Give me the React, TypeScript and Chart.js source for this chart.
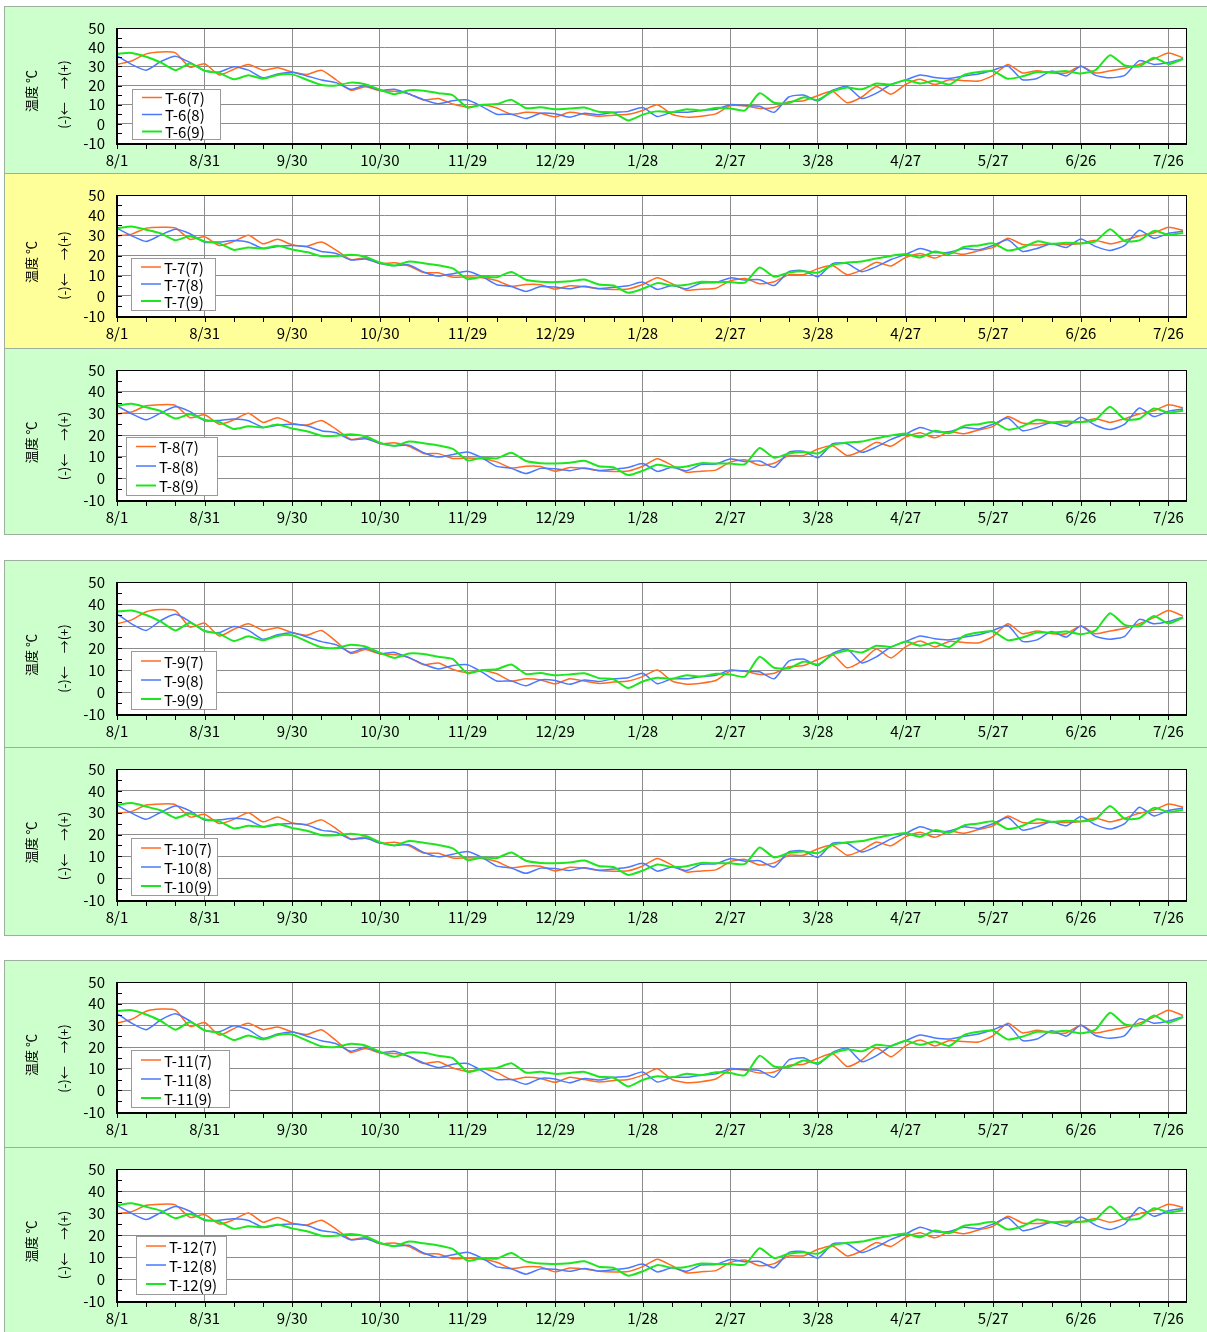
import React, { useEffect, useRef } from 'react';
import { Chart, registerables } from 'chart.js';

Chart.register(...registerables);

// x axis: days since 8/1, one label every 30 days
const DAY_LABELS = ['8/1', '8/31', '9/30', '10/30', '11/29', '12/29', '1/28', '2/27', '3/28', '4/27', '5/27', '6/26', '7/26'];
const SAMPLE_STEP_DAYS = 5; // one reading every 5 days, from 8/1 (day 0) to 7/31 (day 365)

// Group A readings (T-6, also used for the very similar T-9 and T-11 panels)
const GROUP_A_7 = [31, 32.8, 36.5, 37.5, 37, 29.5, 31.3, 25.5, 28.5, 31, 28, 29.2, 27, 25.8, 28, 23, 17.5, 19.3, 17.3, 17, 15.6, 12.4, 13.2, 10.3, 8.8, 9.8, 8.3, 5, 6, 5.5, 3.7, 6, 5, 3.9, 4.5, 5, 7,
  10, 5, 3.5, 4, 5.2, 9.5, 9.4, 8, 8.5, 11.5, 12, 14.8, 17, 11, 14, 19.5, 15.5, 20.5, 23.2, 20.5, 23, 22.5, 22.3, 25.3, 31, 26.5, 27.7, 26.5, 26.5, 30, 26.5, 27.7, 29, 31, 33.8, 37, 34.5];
const GROUP_A_8 = [35.5, 31, 28, 32.5, 35.3, 32, 27.7, 27, 29.8, 28, 24, 26, 26.9, 25, 22.9, 21.5, 18, 20, 17.5, 18, 15.6, 12.6, 10.5, 12, 12.4, 9, 5, 5, 2.8, 5.5, 5.2, 3.5, 5.5, 4.8, 6, 6.5, 8.5,
  3.8, 6, 6, 7, 7.6, 10, 9.5, 9.2, 6, 14, 15, 12, 17.5, 19.5, 13.2, 16, 20.5, 22.9, 25.5, 24.2, 23.7, 25, 26, 28, 30.2, 23, 23.7, 27.5, 25, 30, 25.3, 24, 25.3, 33, 31, 32, 34];
const GROUP_A_9 = [36.6, 37, 35, 32, 28, 31.5, 27.7, 26.5, 23.2, 25.3, 23.5, 25.5, 25.8, 23, 20.3, 20, 21.5, 20.7, 17.8, 15.5, 17.5, 17.3, 16, 14.9, 8.5, 10, 10.3, 12.5, 8.2, 8.6, 7.6, 8, 8.5, 6.3, 5.8, 1.8, 4.8,
  6.5, 6, 7.6, 7, 8.3, 8, 7, 16, 11, 10.8, 13.8, 12.5, 17, 18.9, 18, 21, 20.5, 22.9, 21, 22.5, 20.5, 25.5, 27, 27.5, 23.5, 24.8, 27, 27, 27.5, 26.3, 28, 35.8, 30.5, 30, 34.5, 31.2, 33.8];

// Group B readings (T-7, also used for the very similar T-8, T-10 and T-12 panels)
const GROUP_B_7 = [29.7, 30.6, 33.5, 34, 33.7, 28, 29.3, 25, 27, 30, 25.8, 28, 25.3, 24.6, 26.7, 22.7, 18, 18.8, 16, 16.4, 14.8, 11.5, 11.4, 9.2, 9.4, 9, 7.6, 4.8, 5.6, 5.5, 3.3, 5, 4.5, 3.5, 3.2, 3.4, 5.6,
  9, 6, 2.8, 3.3, 3.8, 7.5, 8.6, 6, 7, 10.5, 10.5, 13.5, 15, 10.5, 12.8, 16.6, 14.8, 19, 21, 18.7, 21.5, 20.6, 22.3, 24, 28.5, 25.5, 25.2, 25.8, 25.5, 26, 27.5, 25.8, 27.5, 29.7, 31.2, 34, 32.5];
const GROUP_B_8 = [33.5, 29.8, 27, 30.2, 33, 30.8, 26.6, 26.7, 27.4, 26.6, 23.5, 24.5, 25, 24.3, 22, 21, 17.8, 18.3, 16.2, 15, 15.3, 11.8, 9.8, 11, 12.2, 9.5, 5.5, 4.6, 2.2, 4.6, 4.4, 3.5, 4.8, 3.6, 4.2, 5, 6.8,
  3.2, 5.1, 3.5, 6.4, 6.6, 8.9, 7.8, 8, 5.1, 12, 12.5, 9.5, 16, 16, 12, 14.5, 18, 20.5, 23.5, 21.5, 21.6, 23.5, 22.8, 25, 27.8, 22, 23.5, 25.8, 24, 28.2, 24.5, 22.5, 25, 32.5, 28.5, 31, 32];
const GROUP_B_9 = [33.5, 34.4, 32.8, 31, 27.6, 29.6, 27, 26, 22.8, 24, 23.5, 24.8, 23, 21.7, 19.7, 19.7, 20.4, 19.4, 16.5, 15, 17, 16.2, 15.2, 13.6, 8.3, 9.5, 9.2, 11.8, 8, 7, 6.8, 7.2, 8.1, 5.6, 5.1, 1.5, 3.5,
  6.3, 5.1, 5.5, 7, 6.8, 6.8, 6.5, 14, 9.5, 11.5, 12.2, 11.5, 15.3, 16.5, 17, 18.5, 19.8, 20.7, 19, 22, 20.8, 24.2, 25, 26, 22.5, 24, 27, 25.8, 26.3, 26, 27, 33, 27.2, 27.5, 32.2, 30.3, 31.2];

const SERIES_SUFFIXES = ['(7)', '(8)', '(9)'];
const SERIES_COLORS = ['#FF6B1F', '#4A78FF', '#1EE61E'];
const SERIES_WIDTHS = [1.5, 1.5, 2];

const GREEN_BG = '#CCFFCC';
const YELLOW_BG = '#FFFF99';
const FONT = "'Noto Sans CJK JP', 'Noto Sans', sans-serif";

const PLOT_LEFT = 117;
const PLOT_RIGHT = 1186;
const CANVAS_LEFT = 5;
const CANVAS_RIGHT = 1207;

type LegendBox = { x: number; y: number; w: number; h: number; row: number; first: number };
type PanelSpec = {
  name: string;
  top: number;
  bottom: number;
  plotTop: number;
  plotBottom: number;
  bg: string;
  legend: LegendBox;
  series: number[][];
};

const PANELS: PanelSpec[] = [
  { name: 'T-6', top: 6, bottom: 173, plotTop: 19, plotBottom: 143, bg: GREEN_BG, legend: { x: 132, y: 89, w: 88, h: 50, row: 17, first: 97.5 }, series: [GROUP_A_7, GROUP_A_8, GROUP_A_9] },
  { name: 'T-7', top: 173, bottom: 348, plotTop: 186, plotBottom: 316, bg: YELLOW_BG, legend: { x: 131, y: 258, w: 84, h: 52, row: 17, first: 267 }, series: [GROUP_B_7, GROUP_B_8, GROUP_B_9] },
  { name: 'T-8', top: 348, bottom: 534, plotTop: 361, plotBottom: 500, bg: GREEN_BG, legend: { x: 126, y: 437, w: 91, h: 58, row: 19.5, first: 446.5 }, series: [GROUP_B_7, GROUP_B_8, GROUP_B_9] },
  { name: 'T-9', top: 560, bottom: 747, plotTop: 575, plotBottom: 714, bg: GREEN_BG, legend: { x: 131, y: 651, w: 85, h: 58, row: 19, first: 661 }, series: [GROUP_A_7, GROUP_A_8, GROUP_A_9] },
  { name: 'T-10', top: 747, bottom: 935, plotTop: 762, plotBottom: 900, bg: GREEN_BG, legend: { x: 131, y: 838, w: 86, h: 57, row: 19, first: 848 }, series: [GROUP_B_7, GROUP_B_8, GROUP_B_9] },
  { name: 'T-11', top: 960, bottom: 1147, plotTop: 974, plotBottom: 1112, bg: GREEN_BG, legend: { x: 131, y: 1050, w: 98, h: 57, row: 19, first: 1060 }, series: [GROUP_A_7, GROUP_A_8, GROUP_A_9] },
  { name: 'T-12', top: 1147, bottom: 1333, plotTop: 1161, plotBottom: 1301, bg: GREEN_BG, legend: { x: 136, y: 1236, w: 90, h: 58, row: 19, first: 1246 }, series: [GROUP_B_7, GROUP_B_8, GROUP_B_9] },
];

function Panel({ spec }: { spec: PanelSpec }) {
  const ref = useRef<HTMLCanvasElement | null>(null);
  const cTop = spec.top + 1;
  const cH = spec.bottom - cTop;
  const cW = CANVAS_RIGHT - CANVAS_LEFT;

  useEffect(() => {
    if (!ref.current) return;
    const toPoints = (arr: number[]) => arr.map((v, i) => ({ x: i * SAMPLE_STEP_DAYS, y: v }));
    const centerLocal = (spec.top + spec.bottom) / 2 - cTop;

    const decor = {
      id: 'panelDecor',
      beforeDraw(chart: any) {
        const { ctx, chartArea: a } = chart;
        ctx.save();
        ctx.fillStyle = '#FFFFFF';
        ctx.fillRect(a.left, a.top, a.right - a.left, a.bottom - a.top);
        ctx.restore();
      },
      afterDraw(chart: any) {
        const { ctx, chartArea: a } = chart;
        const xs = chart.scales.x;
        const ys = chart.scales.y;
        ctx.save();
        // plot border
        ctx.strokeStyle = '#000';
        ctx.lineWidth = 1;
        ctx.strokeRect(Math.round(a.left) + 0.5, Math.round(a.top) + 0.5, Math.round(a.right - a.left), Math.round(a.bottom - a.top));
        ctx.fillStyle = '#000';
        ctx.fillRect(Math.round(a.left) - 1, Math.round(a.top), 1, Math.round(a.bottom - a.top) + 2);
        ctx.fillRect(Math.round(a.left) - 1, Math.round(a.bottom) + 1, Math.round(a.right - a.left) + 2, 1);
        // x tick marks every 10 days (outside)
        ctx.beginPath();
        for (let d = 0; d <= 360; d += 10) {
          const px = Math.round(xs.getPixelForValue(d)) + 0.5;
          ctx.moveTo(px, Math.round(a.bottom) + 1);
          ctx.lineTo(px, Math.round(a.bottom) + 6);
        }
        // y tick marks every 5 units (inside)
        for (let v = -10; v <= 50; v += 5) {
          const py = Math.round(ys.getPixelForValue(v)) + 0.5;
          ctx.moveTo(Math.round(a.left), py);
          ctx.lineTo(Math.round(a.left) + 5, py);
        }
        ctx.strokeStyle = '#000';
        ctx.lineWidth = 1;
        ctx.stroke();

        // legend box
        const lg = spec.legend;
        const lx = lg.x - CANVAS_LEFT;
        const ly = lg.y - cTop;
        ctx.fillStyle = '#FFFFFF';
        ctx.fillRect(lx, ly, lg.w, lg.h);
        ctx.strokeStyle = '#9A9A9A';
        ctx.lineWidth = 1;
        ctx.strokeRect(lx + 0.5, ly + 0.5, lg.w, lg.h);
        ctx.font = `15px ${FONT}`;
        ctx.textBaseline = 'middle';
        ctx.textAlign = 'left';
        SERIES_SUFFIXES.forEach((suf, i) => {
          const ry = lg.first - cTop + i * lg.row;
          ctx.beginPath();
          ctx.strokeStyle = SERIES_COLORS[i];
          ctx.lineWidth = SERIES_WIDTHS[i];
          ctx.moveTo(lx + 10, ry);
          ctx.lineTo(lx + 30, ry);
          ctx.stroke();
          ctx.fillStyle = '#000';
          ctx.fillText(spec.name + suf, lx + 33, ry + 1);
        });

        // y axis titles (rotated)
        ctx.fillStyle = '#000';
        ctx.font = `13px ${FONT}`;
        ctx.textAlign = 'center';
        ctx.textBaseline = 'middle';
        ctx.save();
        ctx.translate(31 - CANVAS_LEFT, centerLocal + 1.5);
        ctx.rotate(-Math.PI / 2);
        ctx.fillText('温度 ℃', 0, 0);
        ctx.restore();
        ctx.save();
        ctx.translate(64 - CANVAS_LEFT, centerLocal + 5);
        ctx.rotate(-Math.PI / 2);
        ctx.fillText('(-)←\u3000→(+)', 0, 0);
        ctx.restore();
        ctx.restore();
      },
    };

    const chart = new Chart(ref.current, {
      type: 'line',
      data: {
        datasets: spec.series.map((arr, i) => ({
          label: spec.name + SERIES_SUFFIXES[i],
          data: toPoints(arr),
          borderColor: SERIES_COLORS[i],
          backgroundColor: SERIES_COLORS[i],
          borderWidth: SERIES_WIDTHS[i],
          pointRadius: 0,
          tension: 0.2,
          fill: false,
          order: 2 - i,
        })),
      },
      options: {
        responsive: false,
        animation: false,
        devicePixelRatio: 1,
        layout: {
          autoPadding: false,
          padding: { left: 0, top: spec.plotTop - cTop, right: CANVAS_RIGHT - PLOT_RIGHT, bottom: 0 },
        },
        plugins: { legend: { display: false }, tooltip: { enabled: false }, title: { display: false } },
        scales: {
          x: {
            type: 'linear',
            min: 0,
            max: 366,
            afterBuildTicks: (axis: any) => {
              axis.ticks = DAY_LABELS.map((_, i) => ({ value: i * 30 }));
            },
            afterFit: (axis: any) => {
              axis.height = cH - (spec.plotBottom - cTop);
            },
            grid: { color: '#8C8C8C', lineWidth: 1, drawTicks: false },
            border: { display: false },
            ticks: {
              autoSkip: false,
              maxRotation: 0,
              minRotation: 0,
              padding: 8,
              color: '#000',
              font: { family: FONT, size: 15 },
              callback: (v: any) => DAY_LABELS[Math.round(Number(v) / 30)] ?? '',
            },
          },
          y: {
            type: 'linear',
            min: -10,
            max: 50,
            afterFit: (axis: any) => {
              axis.width = PLOT_LEFT - CANVAS_LEFT;
            },
            grid: { color: '#8C8C8C', lineWidth: 1, drawTicks: false },
            border: { display: false },
            ticks: {
              stepSize: 10,
              autoSkip: false,
              padding: 12,
              color: '#000',
              font: { family: FONT, size: 15 },
              callback: (v: any) => String(v),
            },
          },
        },
      } as any,
      plugins: [decor],
    });
    return () => chart.destroy();
  }, [spec]);

  return (
    <div
      style={{
        position: 'absolute',
        left: 4,
        top: spec.top,
        width: 1212,
        height: spec.bottom - spec.top + 1,
        background: spec.bg,
        border: '1px solid #9DB09D',
        boxSizing: 'border-box',
      }}
    >
      <canvas ref={ref} width={cW} height={cH} style={{ position: 'absolute', left: 0, top: 0, width: cW, height: cH }} />
    </div>
  );
}

export default function App() {
  return (
    <div style={{ position: 'absolute', left: 0, top: 0, width: 1207, height: 1332, overflow: 'hidden', background: '#FFFFFF' }}>
      {PANELS.map((p) => (
        <Panel key={p.name} spec={p} />
      ))}
    </div>
  );
}
